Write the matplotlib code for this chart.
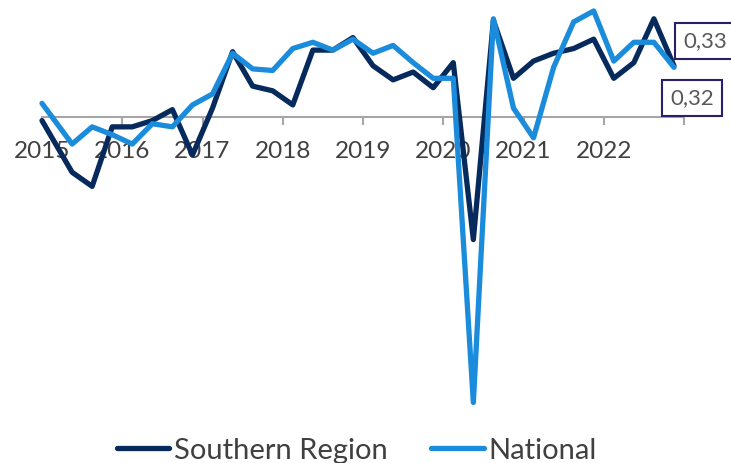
import numpy as np
import pandas as pd
import matplotlib
matplotlib.use("Agg")
import matplotlib.pyplot as plt

plt.rcParams['font.family'] = ['Lato', 'DejaVu Sans']

# quarterly series, 2015Q1 - 2022Q4
quarters = pd.period_range('2015Q1', '2022Q4', freq='Q')
southern = [-0.02, -0.35, -0.44, -0.06, -0.06, -0.02, 0.05, -0.24,
            0.06, 0.42, 0.20, 0.17, 0.08, 0.43, 0.43, 0.51,
            0.33, 0.24, 0.29, 0.19, 0.35, -0.78, 0.62, 0.25,
            0.36, 0.41, 0.44, 0.50, 0.25, 0.35, 0.63, 0.33]
national = [0.09, -0.17, -0.06, -0.11, -0.17, -0.04, -0.06, 0.08,
            0.15, 0.41, 0.31, 0.30, 0.44, 0.48, 0.43, 0.50,
            0.41, 0.46, 0.35, 0.25, 0.25, -1.82, 0.63, 0.06,
            -0.13, 0.32, 0.61, 0.68, 0.36, 0.48, 0.48, 0.32]
years = list(range(2015, 2023))

c_south = '#062a5b'
c_nat = '#1a8cdb'
c_text = '#404040'

# mid-quarter positions on a year scale; first point sits at the axis start
x = np.array(quarters.year + (quarters.quarter - 0.5) / 4, dtype=float)
x[0] = 2015.0

fig = plt.figure(figsize=(7.31, 4.63), dpi=100)
ax = fig.add_axes([42 / 731, 48 / 463, 642 / 731, 415 / 463])

ax.plot(x, southern, color=c_south, lw=3.8, solid_joinstyle='round',
        solid_capstyle='round', label='Southern Region', zorder=3, clip_on=False)
ax.plot(x, national, color=c_nat, lw=3.8, solid_joinstyle='round',
        solid_capstyle='round', label='National', zorder=3, clip_on=False)

ax.set_xlim(2015, 2023)
ax.set_ylim(-1.9, 0.75)

for s in ['top', 'right', 'left']:
    ax.spines[s].set_visible(False)
ax.spines['bottom'].set_position(('data', 0))
ax.spines['bottom'].set_color('#a6a6a6')
ax.spines['bottom'].set_linewidth(1.5)

ax.set_xticks(list(years) + [2023])
ax.set_xticklabels([str(y) for y in years] + [''])
ax.tick_params(axis='x', direction='out', length=6, width=1.5, color='#a6a6a6',
               labelsize=17.5, labelcolor=c_text, pad=11)
ax.set_yticks([])

# end-value labels
box = dict(boxstyle='square,pad=0.35', fc='white', ec='#2b1f6b', lw=1.5)
fig.text(705 / 731, 1 - 41 / 463, f"{southern[-1]:.2f}".replace('.', ','),
         ha='center', va='center', fontsize=16, color='#595959', bbox=box)
fig.text(692 / 731, 1 - 98 / 463, f"{national[-1]:.2f}".replace('.', ','),
         ha='center', va='center', fontsize=16, color='#595959', bbox=box)

fig.legend(loc='lower center', bbox_to_anchor=(0.488, -0.058), ncol=2, frameon=False,
           fontsize=21, labelcolor=c_text, handlelength=1.8, handletextpad=0.15,
           columnspacing=1.5)

fig.savefig('out.png', dpi=100)
